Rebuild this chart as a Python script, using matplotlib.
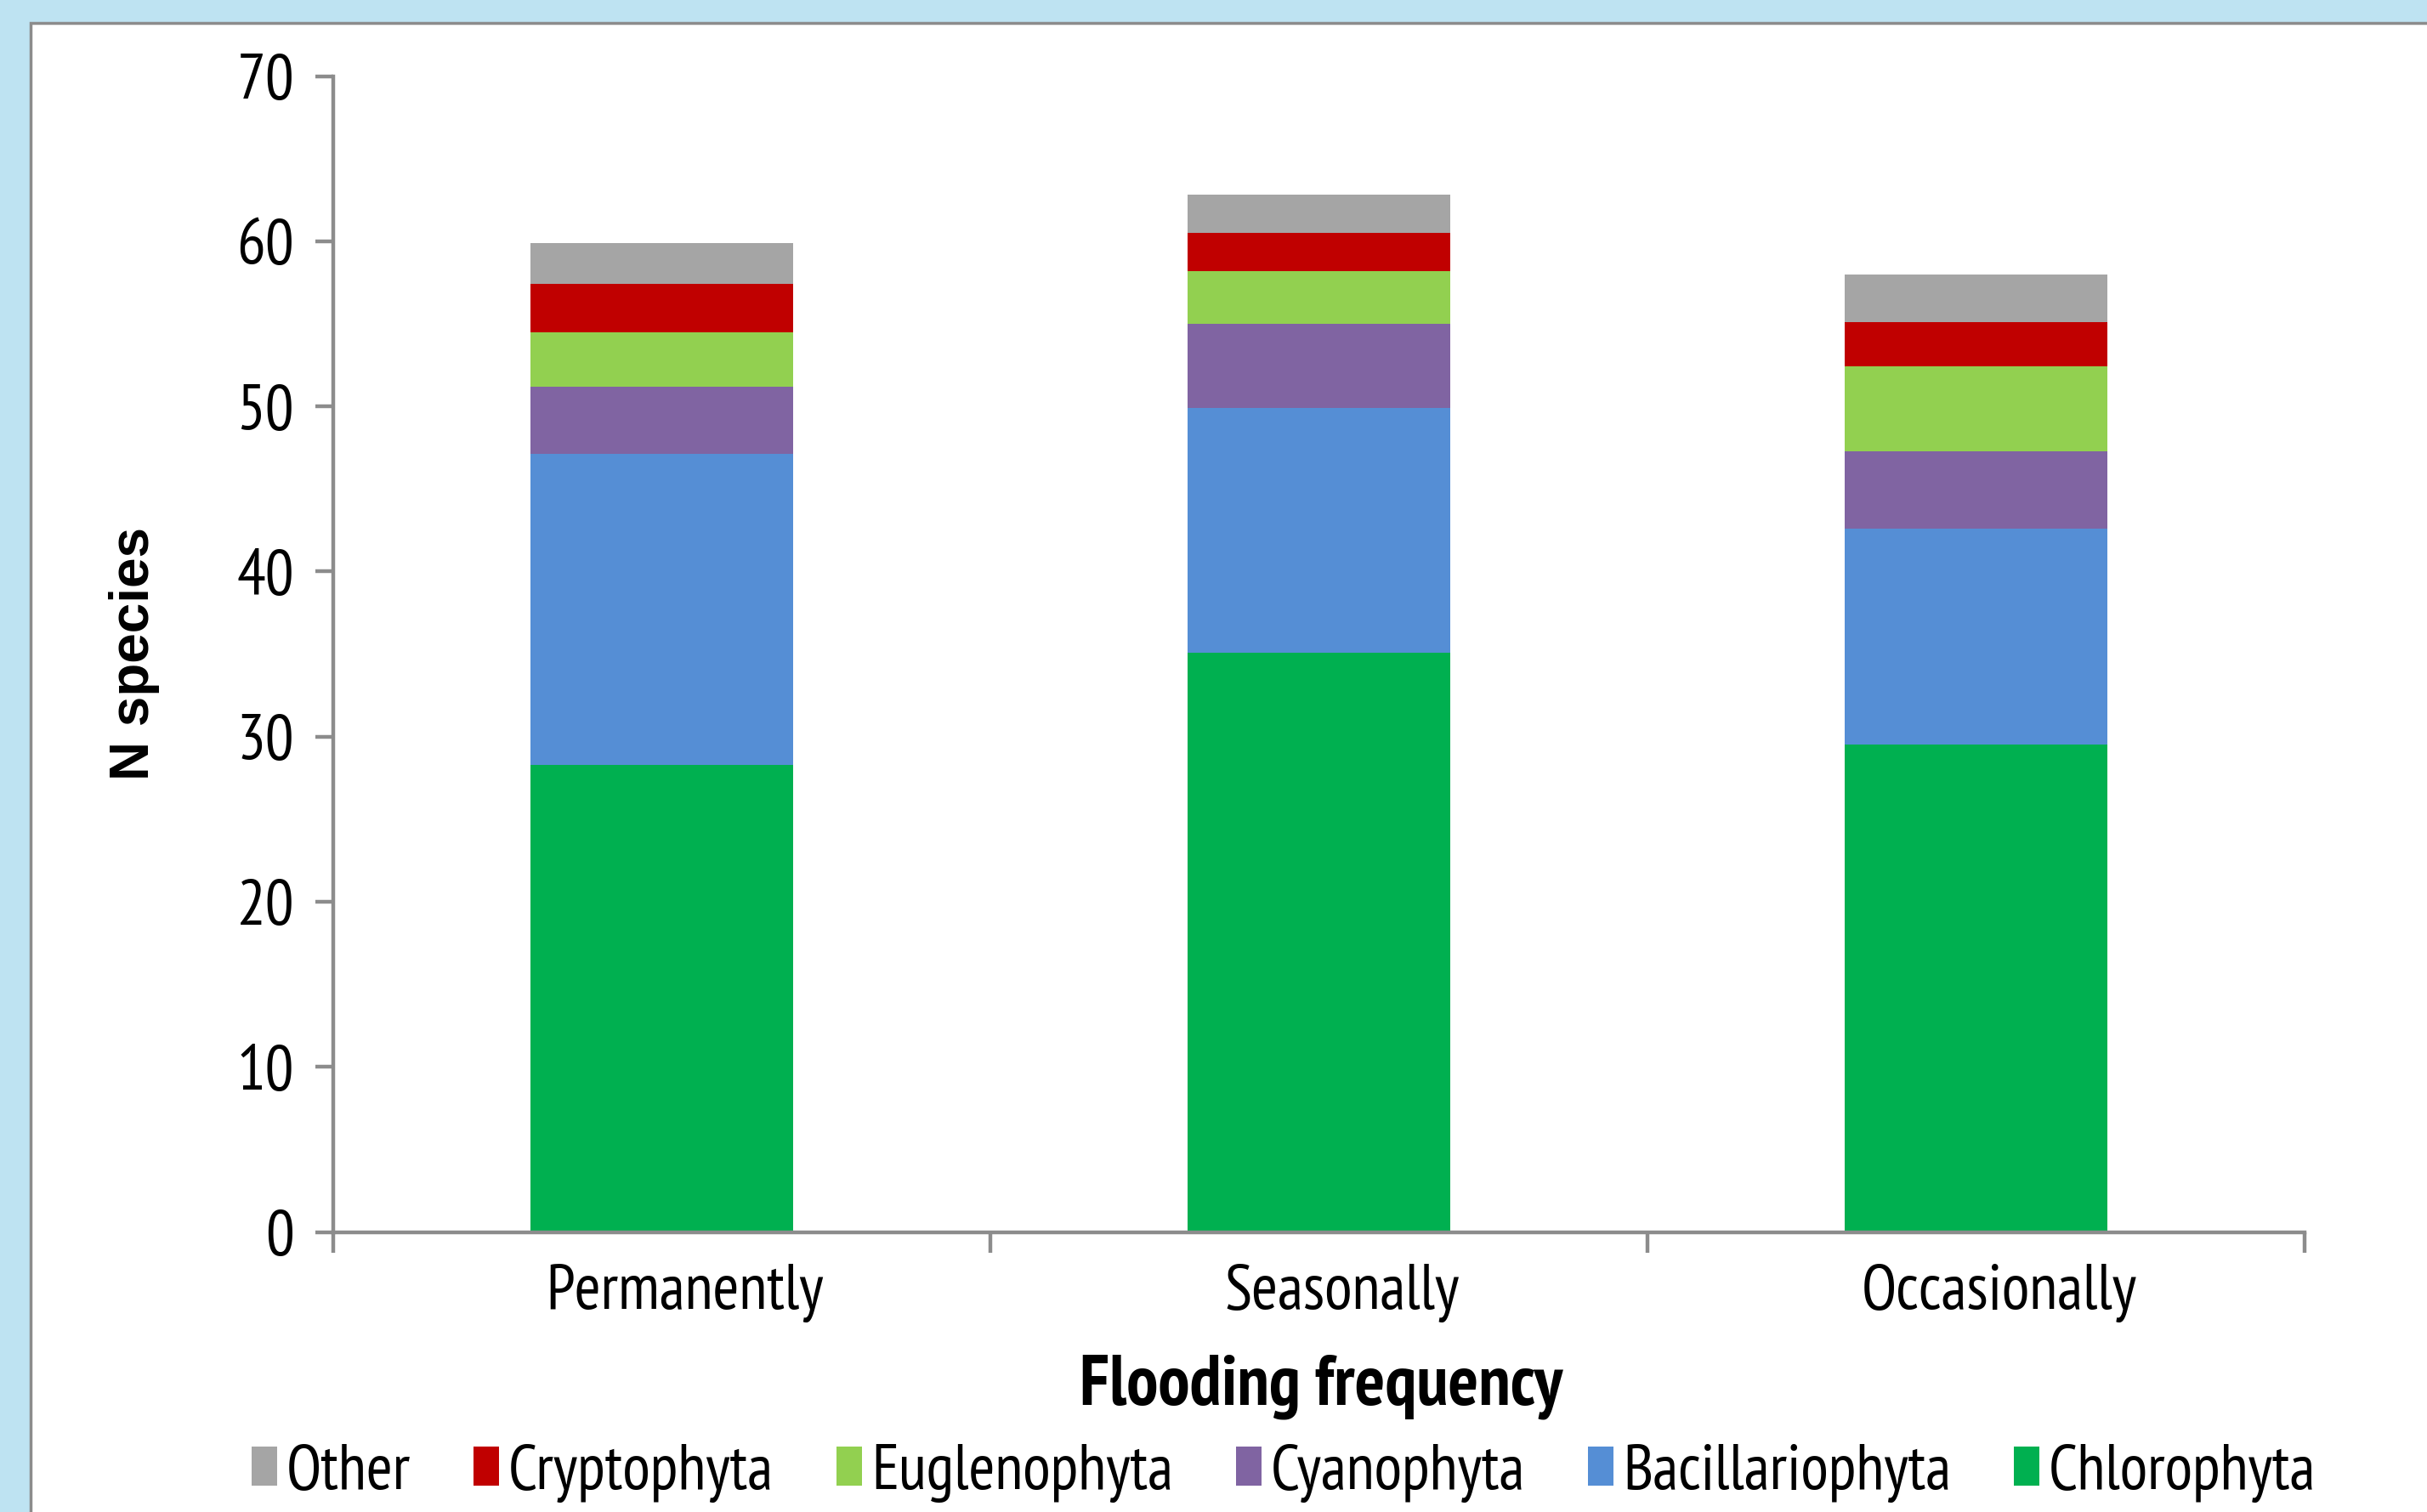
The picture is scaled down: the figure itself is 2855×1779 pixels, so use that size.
import matplotlib
matplotlib.use("Agg")
import matplotlib.pyplot as plt
from matplotlib.patches import Rectangle
from matplotlib.transforms import ScaledTranslation
import numpy as np

# Datos (número de especies por grupo y frecuencia de inundación)
categories = ["Permanently", "Seasonally", "Occasionally"]
chlorophyta = [28.3, 35.1, 29.5]
bacillariophyta = [18.8, 14.8, 13.1]
cyanophyta = [4.1, 5.1, 4.7]
euglenophyta = [3.3, 3.2, 5.1]
cryptophyta = [2.9, 2.3, 2.7]
other = [2.5, 2.3, 2.9]

series = [
    ("Chlorophyta", chlorophyta, "#00B050"),
    ("Bacillariophyta", bacillariophyta, "#558ED5"),
    ("Cyanophyta", cyanophyta, "#8064A2"),
    ("Euglenophyta", euglenophyta, "#92D050"),
    ("Cryptophyta", cryptophyta, "#C00000"),
    ("Other", other, "#A5A5A5"),
]

narrow = ["PT Sans Narrow", "DejaVu Sans"]
fs = 54

W, H = 2855, 1779
fig = plt.figure(figsize=(W / 100, H / 100), dpi=100)
fig.patch.set_facecolor("#BEE3F2")

# Panel blanco con borde gris
fig.patches.append(Rectangle((36 / W, -0.1), 1.2, 1.1 - 27 / H, transform=fig.transFigure,
                             facecolor="white", edgecolor="#8C8C8C", linewidth=2.5, zorder=-5))

ax = fig.add_axes([392 / W, 1 - 1449.5 / H, (2711 - 392) / W, (1449.5 - 89.5) / H])
ax.set_facecolor("none")

x = np.arange(len(categories))
bottom = np.zeros(len(categories))
handles = {}
for name, vals, color in series:
    b = ax.bar(x, vals, width=0.4, bottom=bottom, color=color, label=name,
               edgecolor="none", zorder=2)
    handles[name] = b
    bottom += np.array(vals)

ax.set_xlim(-0.5, 2.5)
ax.set_ylim(0, 70)
ax.set_yticks(range(0, 71, 10))
ax.set_xticks([-0.5, 0.5, 1.5, 2.5])
ax.set_xticklabels([])
ax.set_xticks(x, minor=True)
ax.set_xticklabels(categories, minor=True, family=narrow, fontsize=fs)
ax.tick_params(axis="x", which="minor", length=0, pad=27)
ax.tick_params(axis="x", which="major", length=17, width=3.2, color="#8C8C8C", direction="out")
ax.tick_params(axis="y", length=15, width=3.2, color="#8C8C8C", direction="out", pad=18)
shift = ScaledTranslation(0.27, 0, fig.dpi_scale_trans)
for lab in ax.get_xticklabels(minor=True):
    lab.set_transform(lab.get_transform() + shift)
for lab in ax.get_yticklabels():
    lab.set_family(narrow)
    lab.set_fontsize(fs)

for side in ["top", "right"]:
    ax.spines[side].set_visible(False)
for side in ["left", "bottom"]:
    ax.spines[side].set_color("#8C8C8C")
    ax.spines[side].set_linewidth(3.2)

fig.text(158 / W, 1 - 769 / H, "N species", rotation=90, ha="center", va="center",
         family="Liberation Sans", fontweight="bold", fontsize=46)
fig.text(1554 / W, 1 - 1632 / H, "Flooding frequency", ha="center", va="center",
         family=narrow, fontweight="bold", fontsize=60)

order = ["Other", "Cryptophyta", "Euglenophyta", "Cyanophyta", "Bacillariophyta", "Chlorophyta"]
fig.legend([handles[n] for n in order], order, loc="center", ncol=6,
           bbox_to_anchor=(1510 / W, 1 - 1733 / H), frameon=False,
           prop={"family": narrow, "size": fs}, handlelength=0.4, handleheight=0.55,
           handletextpad=0.15, columnspacing=0.98, borderaxespad=0)

fig.savefig("out.png", dpi=100, facecolor=fig.get_facecolor())
